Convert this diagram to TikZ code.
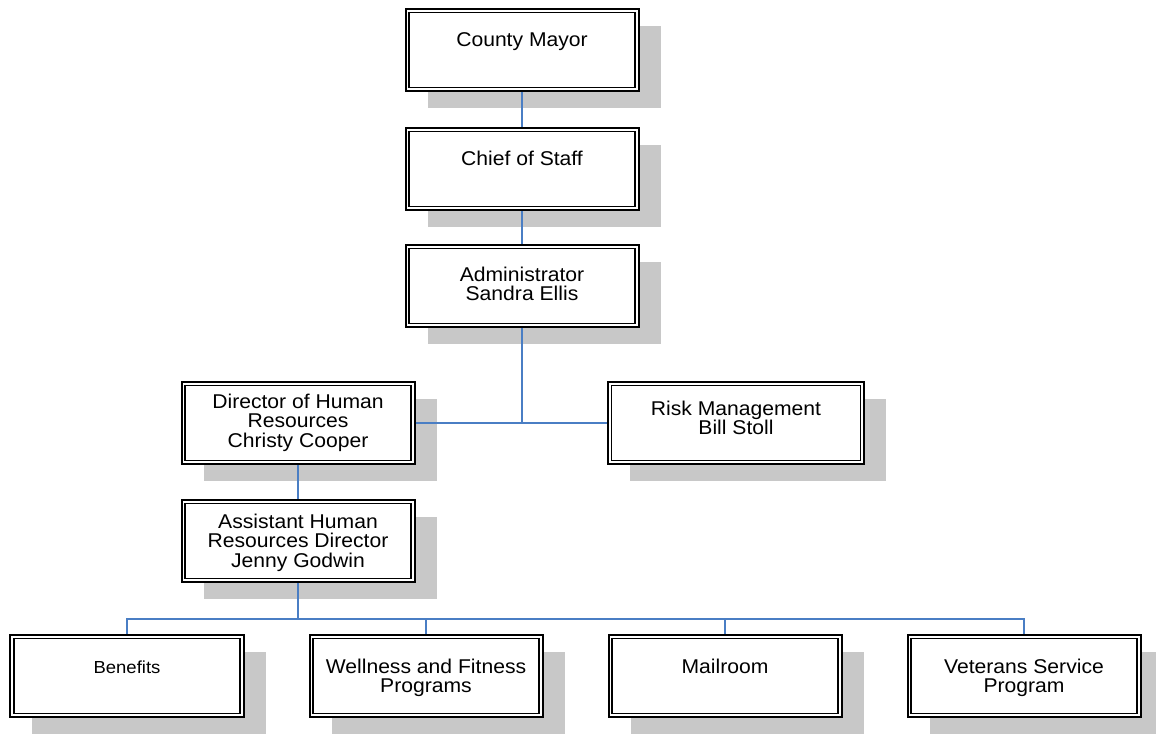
\documentclass[tikz,border=0pt]{standalone}
\usepackage{fontspec}
\setmainfont{Liberation Sans}[FakeStretch=1.06]
\usetikzlibrary{shadows}

\definecolor{linkblue}{RGB}{74,126,196}
\definecolor{shadegray}{RGB}{200,200,200}

% centred lines whose baseline is the baseline of the first line
\newcommand\rows[1]{\vtop{\baselineskip=20pt\lineskiplimit=-20pt\halign{\hfil##\hfil\cr#1\crcr}}}

\begin{document}
\begin{tikzpicture}[x=1bp,y=-1bp,
  unit/.style={draw=black, line width=2bp, fill=white, inner sep=0pt,
    minimum width=233bp, minimum height=82bp,
    font=\fontsize{20}{20}\selectfont,
    drop shadow={shadow xshift=22bp, shadow yshift=-17bp, fill=shadegray, opacity=1}},
  innerframe/.style={draw=black, line width=1.1bp},
  link/.style={draw=linkblue, line width=1.6bp}]

\useasboundingbox (0,0) rectangle (1156,734);

% chain of command
\node[unit, text height=38bp, text depth=44bp] (mayor) at (522,50) {County Mayor};
\node[unit, text height=38bp, text depth=44bp] (chief) at (522,169) {Chief of Staff};
\node[unit, text height=36bp, text depth=46bp] (admin) at (522,286) {\rows{Administrator\cr Sandra Ellis}};

% second level
\node[unit, text height=26bp, text depth=56bp] (director) at (298,423)
  {\rows{Director of Human\cr Resources\cr Christy Cooper}};
\node[unit, minimum width=256bp, text height=33bp, text depth=49bp] (risk) at (736,423)
  {\rows{Risk Management\cr Bill Stoll}};
\node[unit, text height=28bp, text depth=54bp] (assistant) at (298,541)
  {\rows{Assistant Human\cr Resources Director\cr Jenny Godwin}};

% sections
\node[unit, text height=38bp, text depth=44bp, font=\fontsize{17.5}{20}\selectfont] (benefits) at (127,676) {Benefits};
\node[unit, text height=38bp, text depth=44bp] (wellness) at (426,676) {\rows{Wellness and Fitness\cr Programs}};
\node[unit, text height=38bp, text depth=44bp] (mailroom) at (725,676) {Mailroom};
\node[unit, text height=38bp, text depth=44bp] (veterans) at (1024,676) {\rows{Veterans Service\cr Program}};

% inner line of each double frame
\foreach \n in {mayor,chief,admin,director,risk,assistant,benefits,wellness,mailroom,veterans}
  \draw[innerframe] ([xshift=4.5bp,yshift=-4.5bp]\n.north west) rectangle ([xshift=-4.5bp,yshift=4.5bp]\n.south east);

% connectors
\draw[link] (mayor) -- (chief);
\draw[link] (chief) -- (admin);
\draw[link] (admin.south) -- (admin.south |- director.east);
\draw[link] (director.east) -- (risk.west);
\draw[link] (director) -- (assistant);

\coordinate (bus) at (298,619);
\draw[link] (assistant.south) -- (bus);
\draw[link] (benefits.north) |- (bus);
\draw[link] (bus) -| (wellness.north);
\draw[link] (bus) -| (mailroom.north);
\draw[link] (bus) -| (veterans.north);

\end{tikzpicture}
\end{document}
